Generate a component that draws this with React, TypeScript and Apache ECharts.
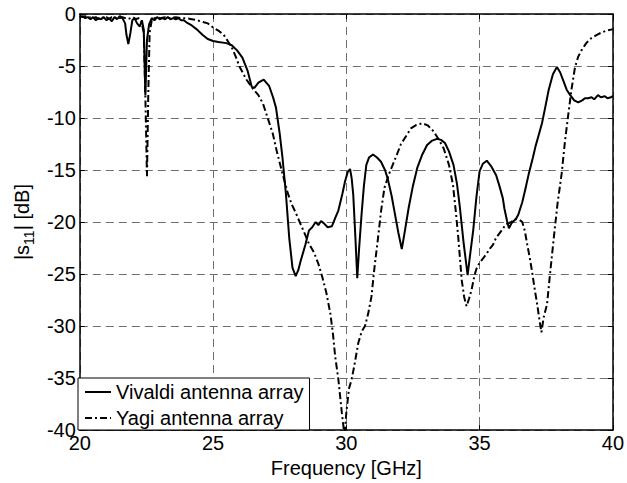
import { useEffect, useRef } from "react";
import * as echarts from "echarts";

// Measured |S11| of the two antenna arrays, frequency in GHz, magnitude in dB
const vivaldiFreq = [
  20.0, 20.1, 20.2, 20.3, 20.4, 20.5, 20.6, 20.7, 20.8, 20.9, 21.0, 21.1, 21.2, 21.3, 21.4, 21.5, 21.6, 21.7,
  21.75, 21.82, 21.9, 21.97, 22.05, 22.15, 22.25, 22.33, 22.4, 22.46, 22.52, 22.6, 22.7, 22.8, 22.9, 23.0,
  23.1, 23.2, 23.3, 23.4, 23.5, 23.6, 23.7, 23.8, 23.9, 24.0, 24.2, 24.4, 24.6, 24.8, 25.0, 25.2, 25.5, 25.7,
  25.9, 26.1, 26.3, 26.45, 26.55, 26.7, 26.9, 27.1, 27.25, 27.36, 27.5, 27.6, 27.73, 27.86, 27.98, 28.1, 28.2,
  28.28, 28.46, 28.6, 28.72, 28.85, 28.95, 29.05, 29.15, 29.3, 29.46, 29.6, 29.7, 29.85, 29.95, 30.05, 30.14,
  30.2, 30.26, 30.34, 30.41, 30.48, 30.57, 30.66, 30.75, 30.85, 31.0, 31.15, 31.3, 31.45, 31.55, 31.7, 31.8,
  31.95, 32.08, 32.2, 32.34, 32.5, 32.66, 32.85, 33.03, 33.2, 33.4, 33.55, 33.7, 33.85, 34.02, 34.15, 34.26,
  34.4, 34.55, 34.65, 34.76, 34.88, 35.0, 35.12, 35.27, 35.45, 35.62, 35.74, 35.87, 35.93, 36.03, 36.1, 36.2,
  36.36, 36.45, 36.6, 36.72, 36.85, 37.0, 37.1, 37.22, 37.34, 37.46, 37.59, 37.75, 37.9, 38.02, 38.14, 38.27,
  38.4, 38.55, 38.7, 38.85, 38.95, 39.07, 39.2, 39.3, 39.44, 39.55, 39.7, 39.8, 39.93, 40.0,
];
const vivaldiDb = [
  -0.3, -0.2, -0.4, -0.3, -0.5, -0.3, -0.6, -0.4, -0.5, -0.3, -0.6, -0.4, -0.7, -0.3, -0.5, -0.2, -0.4, -0.9,
  -2.0, -2.9, -1.8, -0.6, -0.4, -0.9, -1.2, -0.6, -1.5, -7.8, -2.5, -1.0, -0.4, -0.6, -0.3, -0.5,
  -0.4, -0.5, -0.3, -0.5, -0.4, -0.5, -0.4, -0.6, -0.6, -0.8, -1.1, -1.5, -2.0, -2.4, -2.6, -2.7, -2.8, -3.0,
  -3.5, -4.2, -5.5, -7.0, -7.1, -6.6, -6.3, -6.9, -8.0, -9.0, -11.5, -13.7, -17.2, -21.6, -24.4, -25.2, -24.6,
  -23.8, -22.2, -20.8, -20.5, -20.0, -20.3, -19.9, -20.1, -20.5, -20.4, -19.5, -18.9, -17.3, -16.1, -15.2, -14.9,
  -15.8, -17.4, -21.5, -25.4, -22.5, -19.3, -16.5, -14.5, -13.8, -13.5, -13.8, -14.2, -15.0, -15.8, -17.5, -18.9,
  -21.0, -22.6, -20.8, -18.6, -16.5, -14.8, -13.5, -12.6, -12.2, -12.0, -12.1, -12.4, -13.2, -14.5, -16.3, -18.6,
  -22.0, -25.1, -23.0, -20.8, -17.6, -15.1, -14.4, -14.1, -14.7, -15.5, -16.5, -17.7, -18.7, -19.9, -20.6, -20.1,
  -19.7, -19.3, -18.1, -16.8, -15.3, -13.8, -12.7, -11.6, -10.5, -9.0, -7.3, -5.8, -5.1, -5.6, -6.4, -7.3,
  -7.8, -8.3, -8.5, -8.3, -8.1, -8.1, -8.0, -8.2, -7.8, -8.0, -7.9, -8.1, -8.0, -7.9,
];

const yagiFreq = [
  20.0, 20.1, 20.2, 20.3, 20.4, 20.5, 20.6, 20.7, 20.8, 20.9, 21.0, 21.1, 21.2, 21.3, 21.4, 21.5, 21.6, 21.7,
  21.8, 21.9, 22.0, 22.1, 22.2, 22.3, 22.4, 22.46, 22.52, 22.57, 22.62, 22.7, 22.8, 22.9, 23.0, 23.2, 23.4,
  23.6, 23.8, 24.0, 24.2, 24.4, 24.66, 24.8, 25.0, 25.2, 25.4, 25.55, 25.7, 25.85, 26.0, 26.25, 26.5, 26.7,
  26.87, 27.05, 27.24, 27.4, 27.6, 27.8, 27.95, 28.1, 28.3, 28.47, 28.6, 28.78, 28.95, 29.1, 29.25, 29.4, 29.5,
  29.58, 29.7, 29.83, 29.93, 30.0, 30.1, 30.2, 30.3, 30.45, 30.58, 30.7, 30.82, 30.94, 31.05, 31.19, 31.3,
  31.43, 31.6, 31.74, 31.9, 32.05, 32.25, 32.42, 32.6, 32.85, 33.05, 33.28, 33.45, 33.65, 33.85, 34.0, 34.1,
  34.2, 34.33, 34.42, 34.51, 34.6, 34.7, 34.8, 34.88, 35.0, 35.1, 35.25, 35.4, 35.5, 35.62, 35.8, 35.99, 36.1,
  36.25, 36.36, 36.5, 36.6, 36.7, 36.79, 36.88, 36.97, 37.07, 37.16, 37.25, 37.32, 37.4, 37.53, 37.65, 37.78,
  37.92, 38.08, 38.2, 38.33, 38.45, 38.58, 38.7, 38.82, 39.0, 39.2, 39.4, 39.56, 39.75, 39.93, 40.0,
];
const yagiDb = [
  -0.2, -0.3, -0.2, -0.4, -0.3, -0.4, -0.3, -0.5, -0.3, -0.4, -0.3, -0.5, -0.3, -0.4, -0.3, -0.4, -0.3, -0.4,
  -0.5, -0.4, -0.3, -0.5, -0.4, -0.6, -1.8, -8.0, -15.6, -7.5, -1.8, -0.6, -0.4, -0.3, -0.4, -0.3, -0.4,
  -0.3, -0.4, -0.4, -0.5, -0.6, -0.8, -0.9, -1.3, -1.6, -2.0, -2.6, -3.2, -4.1, -5.1, -6.3, -7.2, -7.8,
  -8.6, -10.0, -11.5, -13.3, -15.3, -17.2, -18.3, -19.1, -20.3, -21.3, -22.1, -22.9, -24.0, -25.3, -26.8, -28.8, -30.8,
  -32.9, -35.1, -38.3, -40.5, -38.3, -36.0, -35.1, -33.8, -31.6, -30.5, -30.0, -28.8, -27.2, -24.5, -21.5, -19.0,
  -16.7, -15.4, -14.5, -13.5, -12.5, -11.7, -11.0, -10.7, -10.5, -10.7, -11.3, -12.0, -12.9, -14.5, -16.4, -18.8,
  -21.5, -25.6, -27.2, -28.1, -27.4, -26.5, -25.2, -24.5, -23.9, -23.6, -23.1, -22.5, -22.2, -21.5, -20.9, -20.2, -20.1,
  -19.9, -19.7, -19.8, -20.0, -20.9, -22.2, -23.4, -24.8, -26.5, -27.9, -29.5, -30.6, -29.2, -27.9, -24.8, -21.6,
  -18.3, -15.3, -12.3, -9.6, -7.2, -5.1, -4.1, -3.5, -2.8, -2.3, -2.0, -1.8, -1.6, -1.5, -1.5,
];

const FONT = "'Liberation Sans', Arial, sans-serif";

const gridDash = { color: "#6e6e6e", width: 1, type: [8, 5] as number[] };
const frameLine = { show: true, onZero: false, lineStyle: { color: "#000", width: 1.5 } };
const innerTick = { show: true, inside: true, length: 5, lineStyle: { color: "#000", width: 1 } };

export default function App() {
  const ref = useRef<HTMLDivElement>(null);

  useEffect(() => {
    const chart = echarts.init(ref.current!, null, { renderer: "svg" });
    chart.setOption({
      animation: false,
      backgroundColor: "#fff",
      textStyle: { fontFamily: FONT },
      grid: { left: 74, right: 12, top: 14, bottom: 48 },
      legend: {
        left: 78,
        top: 378,
        orient: "vertical",
        backgroundColor: "#fff",
        borderColor: "#000",
        borderWidth: 1,
        borderRadius: 0,
        padding: [4, 6, 2, 6],
        itemGap: 6,
        itemWidth: 26,
        itemHeight: 14,
        itemStyle: { opacity: 0 },
        textStyle: { fontSize: 20, color: "#000", fontFamily: FONT },
        data: ["Vivaldi antenna array", "Yagi antenna array"],
      },
      xAxis: [
        {
          type: "value",
          min: 20,
          max: 40,
          interval: 5,
          axisLine: frameLine,
          axisTick: innerTick,
          axisLabel: { color: "#000", fontSize: 20, margin: 3, fontFamily: FONT },
          splitLine: { show: true, lineStyle: gridDash },
          name: "Frequency [GHz]",
          nameLocation: "middle",
          nameGap: 26,
          nameTextStyle: { color: "#000", fontSize: 20, fontFamily: FONT },
        },
        {
          type: "value",
          position: "top",
          min: 20,
          max: 40,
          interval: 5,
          axisLine: frameLine,
          axisTick: innerTick,
          axisLabel: { show: false },
          splitLine: { show: false },
        },
      ],
      yAxis: [
        {
          type: "value",
          min: -40,
          max: 0,
          interval: 5,
          axisLine: frameLine,
          axisTick: innerTick,
          axisLabel: { color: "#000", fontSize: 20, margin: 4, fontFamily: FONT },
          splitLine: { show: true, lineStyle: gridDash },
          name: "|s{sub|11}| [dB]",
          nameLocation: "middle",
          nameGap: 40,
          nameTextStyle: {
            color: "#000",
            fontSize: 20,
            lineHeight: 28,
            fontFamily: FONT,
            rich: {
              sub: { fontSize: 14, lineHeight: 14, verticalAlign: "bottom", color: "#000", fontFamily: FONT },
            },
          },
        },
        {
          type: "value",
          position: "right",
          min: -40,
          max: 0,
          interval: 5,
          axisLine: frameLine,
          axisTick: innerTick,
          axisLabel: { show: false },
          splitLine: { show: false },
        },
      ],
      series: [
        {
          name: "Vivaldi antenna array",
          type: "line",
          symbol: "none",
          xAxisIndex: 0,
          yAxisIndex: 0,
          lineStyle: { color: "#000", width: 2 },
          itemStyle: { color: "#000" },
          data: vivaldiFreq.map((f, i) => [f, vivaldiDb[i]]),
        },
        {
          name: "Yagi antenna array",
          type: "line",
          symbol: "none",
          xAxisIndex: 0,
          yAxisIndex: 0,
          lineStyle: { color: "#000", width: 2, type: [7, 3, 2, 3] },
          itemStyle: { color: "#000" },
          data: yagiFreq.map((f, i) => [f, yagiDb[i]]),
        },
      ],
    });
    return () => chart.dispose();
  }, []);

  return <div ref={ref} style={{ position: "fixed", left: 0, top: 0, width: 627, height: 483 }} />;
}
